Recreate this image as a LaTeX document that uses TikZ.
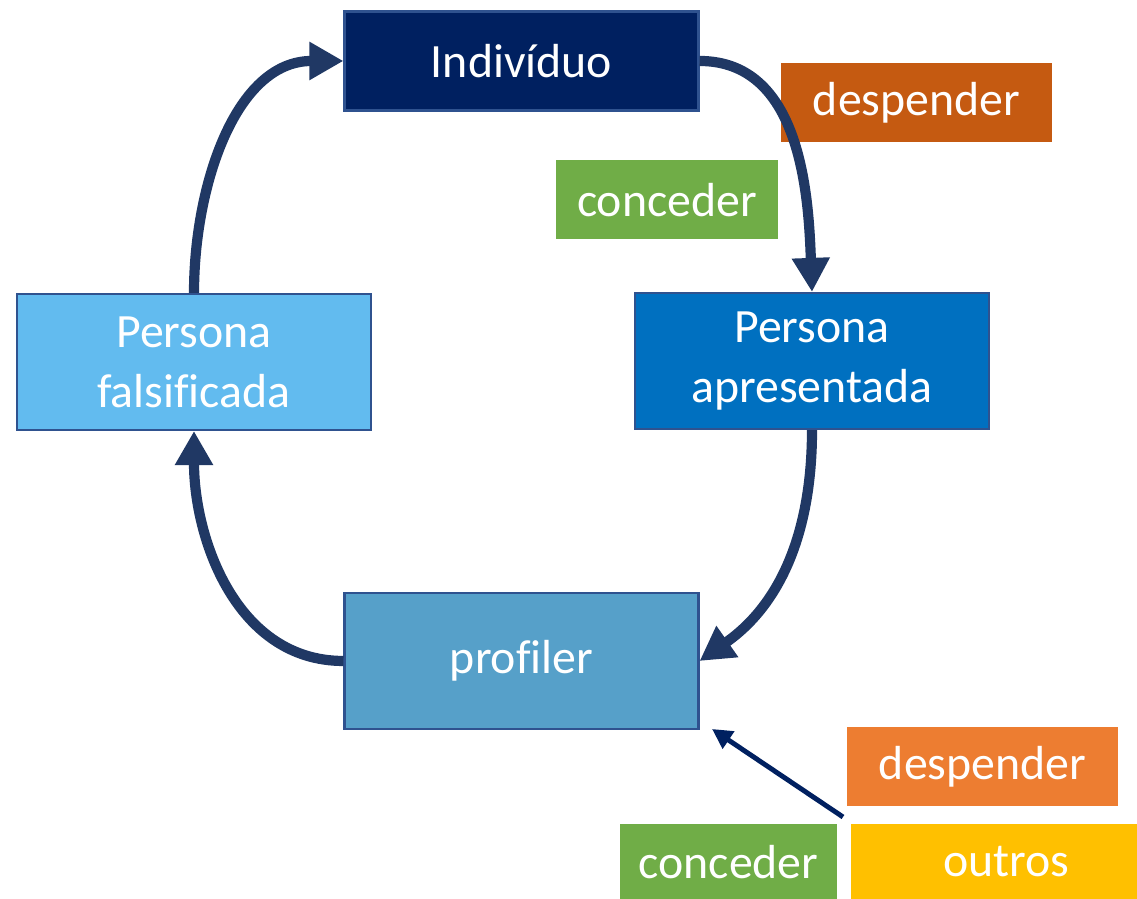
\documentclass[tikz,border=0pt]{standalone}
\usepackage{fontspec}
\setmainfont{Carlito}[Ligatures=NoCommon]
\usepackage{xcolor}
\usetikzlibrary{positioning,arrows.meta}

\definecolor{navy}{HTML}{002060}
\definecolor{edge}{HTML}{2F528F}
\definecolor{cycle}{HTML}{203864}
\definecolor{midblue}{HTML}{0070C0}
\definecolor{skyblue}{HTML}{62BBEF}
\definecolor{steel}{HTML}{56A0C9}
\definecolor{rust}{HTML}{C55A11}
\definecolor{leaf}{HTML}{70AD47}
\definecolor{amber}{HTML}{ED7D31}
\definecolor{gold}{HTML}{FFC000}

\begin{document}
\begin{tikzpicture}[font=\fontsize{13.6}{17}\selectfont, text=white,
	box/.style={draw=edge, line width=0.6pt, minimum width=3.54cm, minimum height=1.36cm, align=center, inner sep=0pt},
	tag/.style={minimum width=2.71cm, minimum height=0.79cm, inner sep=0pt},
	loop/.style={draw=cycle, line width=2.9pt, -{Triangle[length=0.34cm, width=0.36cm]}}]
		\useasboundingbox (0,0) rectangle (11.37,8.99);
		\node[box, fill=navy, minimum height=0.99cm] (indiv) at (5.215,8.38) {Indivíduo};
		\node[box, fill=midblue] (apres) at (8.12,5.38) {Persona\\apresentada};
		\node[box, fill=skyblue] (falsa) at (1.94,5.37) {Persona\\falsificada};
		\node[box, fill=steel] (profiler) at (5.215,2.38) {profiler};
		\node[tag, fill=rust] (gasto) at (9.165,7.96) {despender};
		\node[tag, fill=leaf, minimum width=2.22cm] (dado) at (6.67,6.99) {conceder};
		\node[tag, fill=amber] (gasto2) at (9.825,1.32) {despender};
		\node[tag, fill=leaf, minimum width=2.17cm, minimum height=0.76cm] (dado2) at (7.285,0.37) {conceder};
		\node[tag, fill=gold, minimum width=3.1cm, minimum height=0.76cm, right=0.13cm of dado2] (outros) {outros};
		\draw[loop] (indiv.east) to[out=0, in=92] (apres.north);
		\draw[loop] (apres.south) to[out=-90, in=35] (profiler.east);
		\draw[loop] (profiler.west) to[out=180, in=-90] (falsa.south);
		\draw[loop] (falsa.north) to[out=90, in=180] (indiv.west);
		\coordinate (from) at (8.43,0.82);
		\coordinate (to) at (7.12,1.70);
		\draw[navy, line width=1.4pt, -{Triangle[length=0.2cm, width=0.2cm]}] (from) -- (to);
	\end{tikzpicture}
\end{document}
